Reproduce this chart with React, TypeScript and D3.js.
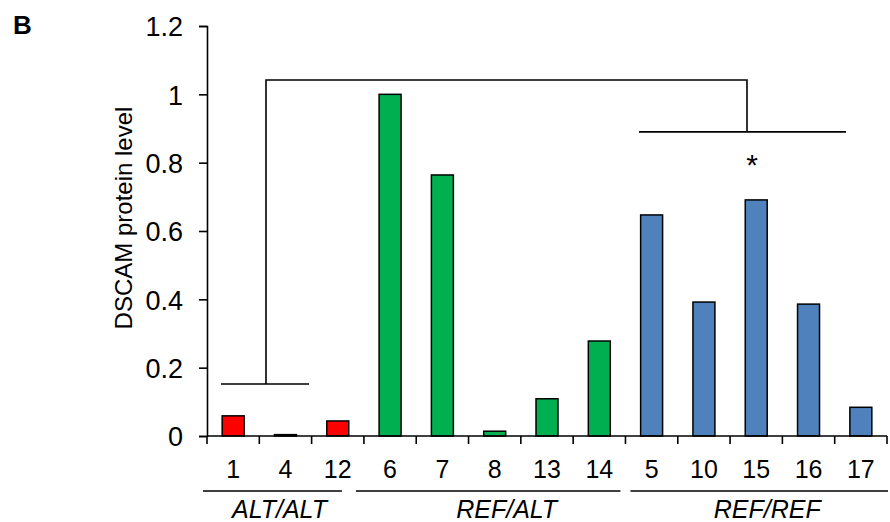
import * as d3 from 'd3'
import { useEffect, useRef } from 'react'

const samples = ['1', '4', '12', '6', '7', '8', '13', '14', '5', '10', '15', '16', '17']
const levels = [0.059, 0.004, 0.044, 1.0, 0.764, 0.014, 0.109, 0.278, 0.647, 0.392, 0.691, 0.386, 0.084]
const genotypes = ['ALT/ALT', 'ALT/ALT', 'ALT/ALT', 'REF/ALT', 'REF/ALT', 'REF/ALT', 'REF/ALT', 'REF/ALT', 'REF/REF', 'REF/REF', 'REF/REF', 'REF/REF', 'REF/REF']
const groups = ['ALT/ALT', 'REF/ALT', 'REF/REF']
const groupColors = ['#FF0000', '#00B050', '#4F81BD']
const yTicks = [0, 0.2, 0.4, 0.6, 0.8, 1, 1.2]

export default function App() {
    const ref = useRef<SVGSVGElement>(null)

    useEffect(() => {
        const svg = d3.select(ref.current)
        svg.selectAll('*').remove()

        const left = 207
        const right = 887
        const top = 26
        const bottom = 436
        const font = 'Liberation Sans, Arial, sans-serif'

        const x = d3.scaleBand().domain(samples.map((s, i) => i + '')).range([left, right]).paddingInner(0.58).paddingOuter(0.29)
        const xEdge = d3.scaleLinear().domain([0, samples.length]).range([left, right])
        const y = d3.scaleLinear().domain([0, 1.2]).range([bottom, top])
        const color = d3.scaleOrdinal<string, string>().domain(groups).range(groupColors)

        // bars
        svg.append('g')
            .selectAll('rect')
            .data(levels)
            .enter()
            .append('rect')
            .attr('x', (d, i) => x(i + '')!)
            .attr('width', x.bandwidth())
            .attr('y', (d) => y(d))
            .attr('height', (d) => bottom - y(d))
            .attr('fill', (d, i) => color(genotypes[i]))
            .attr('stroke', '#000')
            .attr('stroke-width', 1.5)

        // y axis
        const yAxis = d3.axisLeft(y).tickValues(yTicks).tickSize(8).tickFormat((d) => d3.format('~g')(d as number))
        const gy = svg.append('g').attr('transform', `translate(${left},0)`).call(yAxis)
        gy.select('.domain').attr('stroke', '#000').attr('stroke-width', 1.6)
        gy.selectAll('.tick line').attr('stroke', '#000').attr('stroke-width', 1.6)
        gy.selectAll('.tick text').attr('x', -24).attr('dy', '0.36em').attr('font-size', 27).attr('font-family', font).attr('fill', '#000')

        // x axis baseline with ticks at category edges
        const gx = svg.append('g')
        gx.append('line').attr('x1', left).attr('x2', right).attr('y1', bottom).attr('y2', bottom).attr('stroke', '#000').attr('stroke-width', 1.6)
        gx.selectAll('.edge')
            .data(d3.range(samples.length + 1))
            .enter()
            .append('line')
            .attr('x1', (d) => xEdge(d))
            .attr('x2', (d) => xEdge(d))
            .attr('y1', bottom)
            .attr('y2', bottom + 8)
            .attr('stroke', '#000')
            .attr('stroke-width', 1.6)
        gx.selectAll('text')
            .data(samples)
            .enter()
            .append('text')
            .attr('x', (d, i) => x(i + '')! + x.bandwidth() / 2)
            .attr('y', 478)
            .attr('text-anchor', 'middle')
            .attr('font-size', 25)
            .attr('font-family', font)
            .text((d) => d)

        // genotype group underlines and labels
        const spans = groups.map((g) => {
            const idx = genotypes.map((t, i) => (t === g ? i : -1)).filter((i) => i >= 0)
            return { g, first: idx[0], last: idx[idx.length - 1] }
        })
        const lineStart = [-4, -8, 5]
        const lineEnd = [-22, -5, 1]
        const labelShift = [-6, 12, 11]
        const gg = svg.append('g')
        gg.selectAll('line')
            .data(spans)
            .enter()
            .append('line')
            .attr('x1', (d, i) => xEdge(d.first) + lineStart[i])
            .attr('x2', (d, i) => xEdge(d.last + 1) + lineEnd[i])
            .attr('y1', 491)
            .attr('y2', 491)
            .attr('stroke', '#000')
            .attr('stroke-width', 1.5)
        gg.selectAll('text')
            .data(spans)
            .enter()
            .append('text')
            .attr('x', (d, i) => (xEdge(d.first) + xEdge(d.last + 1)) / 2 + labelShift[i])
            .attr('y', 518)
            .attr('text-anchor', 'middle')
            .attr('font-size', 25)
            .attr('font-style', 'italic')
            .attr('font-family', font)
            .text((d) => d.g)

        // significance brackets
        const b = svg.append('g').attr('stroke', '#000').attr('stroke-width', 1.6).attr('fill', 'none')
        b.append('path').attr('d', `M221,${y(0.152)}H309M266,${y(0.152)}V${y(1.042)}H747V${y(0.89)}M639,${y(0.89)}H846`)
        svg.append('text')
            .attr('x', 752)
            .attr('y', 175)
            .attr('text-anchor', 'middle')
            .attr('font-size', 30)
            .attr('font-family', font)
            .text('*')

        // y title
        svg.append('text')
            .attr('transform', 'translate(132,218) rotate(-90)')
            .attr('text-anchor', 'middle')
            .attr('font-size', 24)
            .attr('font-family', font)
            .text('DSCAM protein level')

        svg.append('text')
            .attr('x', 13)
            .attr('y', 34)
            .attr('font-size', 26)
            .attr('font-weight', 'bold')
            .attr('font-family', font)
            .text('B')
    }, [])

    return (
        <div style={{ position: 'absolute', left: 0, top: 0 }}>
            <svg ref={ref} width={890} height={522} style={{ display: 'block', background: '#fff' }} />
        </div>
    )
}
